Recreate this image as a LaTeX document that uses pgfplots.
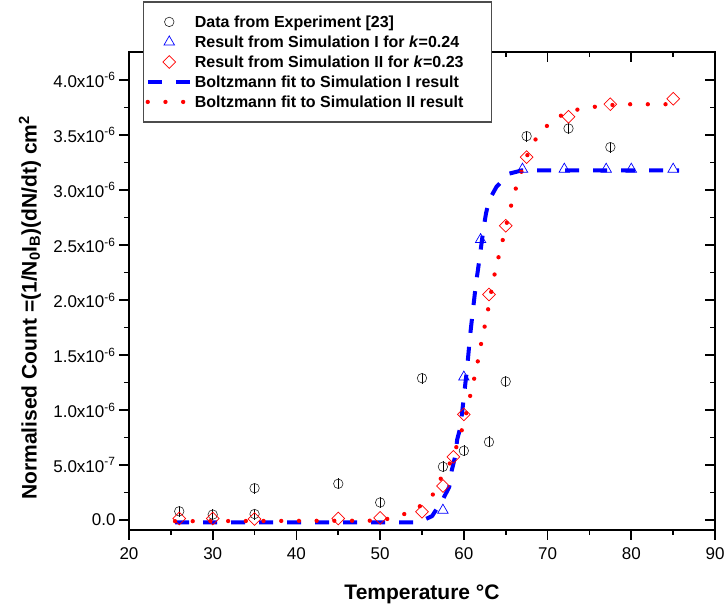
\documentclass[border=0pt]{standalone}
\usepackage{fontspec}
\setmainfont{Liberation Sans}
\usepackage{pgfplots}
\pgfplotsset{compat=1.18}

\pgfplotstableread{
x y e
26 0.08e-6 0.05e-6
30 0.05e-6 0.05e-6
35 0.29e-6 0.05e-6
35 0.055e-6 0.05e-6
45 0.33e-6 0.05e-6
50 0.16e-6 0.05e-6
55 1.29e-6 0.05e-6
57.5 0.485e-6 0.05e-6
60 0.63e-6 0.05e-6
63 0.71e-6 0.05e-6
65 1.26e-6 0.05e-6
67.5 3.49e-6 0.05e-6
72.5 3.56e-6 0.05e-6
77.5 3.39e-6 0.05e-6
}\expdata

\pgfplotstableread{
x y
57.5 0.09e-6
60 1.30e-6
62 2.55e-6
67 3.19e-6
72 3.19e-6
77 3.19e-6
80 3.19e-6
85 3.19e-6
}\simone

\pgfplotstableread{
x y
26 0.015e-6
30 0.015e-6
35 0.01e-6
45 0.015e-6
50 0.02e-6
55 0.075e-6
57.5 0.31e-6
58.75 0.575e-6
60 0.96e-6
63 2.05e-6
65 2.675e-6
67.5 3.30e-6
72.5 3.667e-6
77.5 3.78e-6
85 3.83e-6
}\simtwo

\pgfplotstableread{
x y
25.5 -0.02e-6
54.6 -0.02e-6
56.2 0.036e-6
57.5 0.19e-6
58.25 0.30e-6
58.55 0.45e-6
58.95 0.575e-6
59.2 0.73e-6
59.6 0.85e-6
60.0 1.12e-6
60.4 1.39e-6
60.73 1.667e-6
61.13 1.94e-6
61.45 2.15e-6
61.84 2.36e-6
62.33 2.64e-6
62.65 2.79e-6
63.03 2.91e-6
63.9 3.03e-6
65.43 3.15e-6
67.0 3.18e-6
85.7 3.18e-6
}\fitone

\pgfplotstableread{
x y
25.5 -0.01e-6
50 -0.005e-6
51.9 0.03e-6
54.05 0.085e-6
56.15 0.21e-6
57.46 0.41e-6
58.6 0.55e-6
59.26 0.70e-6
59.93 0.86e-6
60.46 1.03e-6
60.93 1.19e-6
61.45 1.355e-6
61.84 1.515e-6
62.25 1.68e-6
62.72 1.84e-6
63.5 2.175e-6
63.98 2.34e-6
64.5 2.5e-6
65.03 2.67e-6
65.51 2.82e-6
66.1 2.99e-6
66.8 3.15e-6
67.6 3.32e-6
68.7 3.48e-6
70.6 3.64e-6
72.8 3.72e-6
74.9 3.75e-6
77.06 3.77e-6
79.1 3.78e-6
85 3.78e-6
}\fittwo

\begin{document}
\begin{tikzpicture}
\pgfplotsset{
  common/.style={
    at={(0pt,0pt)}, anchor=south west,
    scale only axis, width=586pt, height=478pt,
    xmin=20, xmax=90, ymin=-0.09e-6, ymax=4.255e-6,
    xtick={20,30,40,50,60,70,80,90}, minor x tick num=1,
    ytick={0,0.5e-6,1.0e-6,1.5e-6,2.0e-6,2.5e-6,3.0e-6,3.5e-6,4.0e-6},
    minor y tick num=1,
    major tick length=10pt, minor tick length=5pt,
    axis line style={line width=1.6pt},
    every tick/.append style={black, line width=1.6pt},
    scaled y ticks=false,
  }
}
% inner ticks on top and right
\begin{axis}[common,
  xtick pos=right, ytick pos=right, tick align=inside,
  xticklabels={}, yticklabels={}]
\end{axis}

\begin{axis}[common,
  xtick pos=left, ytick pos=left, tick align=outside,
  /pgf/number format/assume math mode=true,
  tick label style={font=\fontsize{17}{20}\selectfont},
  xticklabel style={yshift=-4pt},
  yticklabels={0.0, 5.0x10\textsuperscript{-7}, 1.0x10\textsuperscript{-6}, 1.5x10\textsuperscript{-6}, 2.0x10\textsuperscript{-6}, 2.5x10\textsuperscript{-6}, 3.0x10\textsuperscript{-6}, 3.5x10\textsuperscript{-6}, 4.0x10\textsuperscript{-6}},
  xlabel={Temperature °C},
  ylabel={Normalised Count =(1/N\textsubscript{0}I\textsubscript{B})(dN/dt) cm\textsuperscript{2}},
  label style={font=\bfseries\fontsize{21}{24}\selectfont},
  xlabel style={at={(axis description cs:0.5,0)}, anchor=base, yshift=-70pt},
  ylabel style={at={(axis description cs:-0.169,0.465)}, anchor=center},
  legend image code/.code={\draw[mark repeat=2,mark phase=2,#1] plot coordinates {(0pt,0pt) (21.5pt,0pt) (43pt,0pt)};},
  legend cell align=left,
  legend style={at={(axis description cs:0.0239,1.106)}, anchor=north west,
    draw=black!70, line width=1.2pt, fill=white,
    font=\bfseries\fontsize{16}{20}\selectfont,
    inner xsep=2pt, inner ysep=10pt,
    nodes={inner sep=2pt, text height=14pt, text depth=2pt}},
]
\addplot[only marks, mark=o, mark size=4.75pt, draw=black!85,
  mark options={line width=0.6pt},
  error bars/.cd, y dir=both, y explicit, error mark=none,
  error bar style={black, line width=0.7pt}]
  table[x=x, y=y, y error=e] {\expdata};
\addlegendentry{Data from Experiment [23]}
\addplot[only marks, mark=triangle, mark size=6pt, blue, mark options={line width=0.7pt}]
  table[x=x, y=y] {\simone};
\addlegendentry{Result from Simulation I for \textit{k}=0.24}
\addplot[only marks, mark=square, mark size=4.5pt, red, mark options={rotate=45, line width=0.7pt}]
  table[x=x, y=y] {\simtwo};
\addlegendentry{Result from Simulation II for \textit{k}=0.23}
\addplot[blue, line width=4pt, dash pattern=on 14pt off 14pt, line join=round]
  table[x=x, y=y] {\fitone};
\addlegendentry{Boltzmann fit to Simulation I result}
\addplot[red, line width=4.3pt, line cap=round, dash pattern=on 0pt off 17.7pt]
  table[x=x, y=y] {\fittwo};
\addlegendentry{Boltzmann fit to Simulation II result\rule{24pt}{0pt}}
\end{axis}
\pgfresetboundingbox
\path[use as bounding box] (-129pt,-82pt) rectangle (597pt,530pt);
\end{tikzpicture}
\end{document}
